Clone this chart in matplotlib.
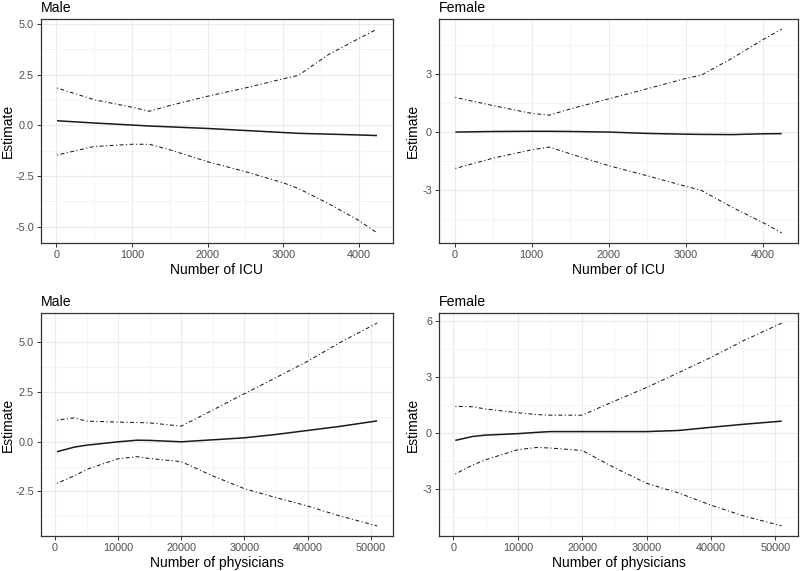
import matplotlib
matplotlib.use("Agg")
import matplotlib.pyplot as plt
import numpy as np
from matplotlib.ticker import FixedLocator, FormatStrFormatter

plt.rcParams['font.family'] = ['Liberation Sans', 'DejaVu Sans']
plt.rcParams['axes.unicode_minus'] = False
plt.rcParams['lines.scale_dashes'] = False

# ---- data ----
icu_x = [10, 500, 1000, 1230, 1500, 2000, 2500, 3000, 3200, 3600, 4000, 4240]
male_icu_est = [0.23, 0.12, 0.02, -0.03, -0.07, -0.15, -0.25, -0.35, -0.39, -0.43, -0.47, -0.50]
male_icu_up = [1.85, 1.27, 0.90, 0.70, 0.98, 1.44, 1.85, 2.30, 2.47, 3.50, 4.29, 4.75]
male_icu_lo = [-1.46, -1.04, -0.93, -0.93, -1.20, -1.79, -2.28, -2.83, -3.11, -3.86, -4.69, -5.30]

female_icu_est = [0.0, 0.03, 0.04, 0.04, 0.03, 0.0, -0.07, -0.11, -0.12, -0.13, -0.09, -0.08]
female_icu_up = [1.78, 1.36, 0.96, 0.87, 1.19, 1.71, 2.23, 2.76, 2.93, 3.80, 4.76, 5.29]
female_icu_lo = [-1.87, -1.34, -0.91, -0.77, -1.12, -1.73, -2.25, -2.79, -3.00, -3.87, -4.66, -5.18]

phys_x = [300, 3000, 5000, 10000, 13000, 15000, 20000, 25000, 30000, 35000, 40000, 45000, 51000]
male_phys_est = [-0.50, -0.27, -0.17, 0.0, 0.08, 0.07, 0.0, 0.10, 0.20, 0.37, 0.57, 0.77, 1.05]
male_phys_up = [1.09, 1.20, 1.04, 0.99, 0.97, 0.95, 0.79, 1.60, 2.42, 3.23, 4.05, 4.97, 5.97]
male_phys_lo = [-2.09, -1.72, -1.39, -0.85, -0.75, -0.84, -1.00, -1.72, -2.36, -2.81, -3.23, -3.72, -4.23]

female_phys_est = [-0.38, -0.17, -0.10, -0.02, 0.05, 0.09, 0.09, 0.09, 0.09, 0.15, 0.32, 0.48, 0.65]
female_phys_up = [1.44, 1.42, 1.30, 1.10, 1.00, 0.97, 0.97, 1.72, 2.45, 3.25, 4.06, 4.95, 5.90]
female_phys_lo = [-2.18, -1.70, -1.42, -0.88, -0.76, -0.79, -0.92, -1.84, -2.68, -3.20, -3.85, -4.42, -4.96]

icu_xticks = [0, 1000, 2000, 3000, 4000]
phys_xticks = [0, 10000, 20000, 30000, 40000, 50000]

panels = [
    dict(title="Male", x=icu_x, est=male_icu_est, up=male_icu_up, lo=male_icu_lo,
         xticks=icu_xticks, yticks=[-5.0, -2.5, 0.0, 2.5, 5.0], yfmt="%.1f", xlabel="Number of ICU",
         rect=[41, 19, 393, 243], ylab_x=15),
    dict(title="Female", x=icu_x, est=female_icu_est, up=female_icu_up, lo=female_icu_lo,
         xticks=icu_xticks, yticks=[-3, 0, 3], yfmt="%d", xlabel="Number of ICU",
         rect=[439, 19, 798, 243], ylab_x=420),
    dict(title="Male", x=phys_x, est=male_phys_est, up=male_phys_up, lo=male_phys_lo,
         xticks=phys_xticks, yticks=[-2.5, 0.0, 2.5, 5.0], yfmt="%.1f", xlabel="Number of physicians",
         rect=[41, 313, 393, 536], ylab_x=15),
    dict(title="Female", x=phys_x, est=female_phys_est, up=female_phys_up, lo=female_phys_lo,
         xticks=phys_xticks, yticks=[-3, 0, 3, 6], yfmt="%d", xlabel="Number of physicians",
         rect=[439, 313, 798, 536], ylab_x=420),
]

W, H = 800, 571
fig = plt.figure(figsize=(W / 100, H / 100), dpi=100)
fig.patch.set_facecolor("white")

line_col = "#1a1a1a"
for p in panels:
    l, t, r, b = p["rect"]
    ax = fig.add_axes([l / W, 1 - b / H, (r - l) / W, (b - t) / H])
    x = np.array(p["x"], dtype=float)
    ax.plot(x, p["up"], color=line_col, lw=0.75, linestyle=(0, (0.8, 1.8, 2.8, 1.8)))
    ax.plot(x, p["lo"], color=line_col, lw=0.75, linestyle=(0, (0.8, 1.8, 2.8, 1.8)))
    ax.plot(x, p["est"], color=line_col, lw=1.1, solid_capstyle="butt")

    xmin, xmax = x.min(), x.max()
    ymin, ymax = min(p["lo"]), max(p["up"])
    dx, dy = 0.05 * (xmax - xmin), 0.05 * (ymax - ymin)
    ax.set_xlim(xmin - dx, xmax + dx)
    ax.set_ylim(ymin - dy, ymax + dy)

    xt = p["xticks"]
    yt = p["yticks"]
    ax.xaxis.set_major_locator(FixedLocator(xt))
    ax.yaxis.set_major_locator(FixedLocator(yt))
    xstep = xt[1] - xt[0]
    ystep = yt[1] - yt[0]
    xminor = np.arange(xt[0] - xstep / 2, xt[-1] + xstep, xstep)
    yminor = np.arange(yt[0] - 1.5 * ystep, yt[-1] + 1.5 * ystep, ystep)
    ax.xaxis.set_minor_locator(FixedLocator(xminor))
    ax.yaxis.set_minor_locator(FixedLocator(yminor))
    ax.yaxis.set_major_formatter(FormatStrFormatter(p["yfmt"]))

    ax.grid(which="major", color="#EBEBEB", lw=0.8)
    ax.grid(which="minor", color="#F2F2F2", lw=0.5)
    ax.set_axisbelow(True)
    ax.tick_params(which="major", length=2.8, width=0.7, color="#333333", labelsize=7.8,
                   labelcolor="#4D4D4D", pad=2.2)
    ax.tick_params(which="minor", length=0)
    for s in ax.spines.values():
        s.set_color("#333333")
        s.set_linewidth(0.9)

    ax.set_xlabel(p["xlabel"], fontsize=10, color="black", labelpad=2.5)
    ax.set_ylabel("Estimate", fontsize=10, color="black")
    ax.yaxis.set_label_coords((p["ylab_x"] - l) / (r - l), 0.5)
    ax.set_title(p["title"], fontsize=10.2, loc="left", color="black", pad=5)

fig.savefig("out.png", dpi=100, facecolor="white")
